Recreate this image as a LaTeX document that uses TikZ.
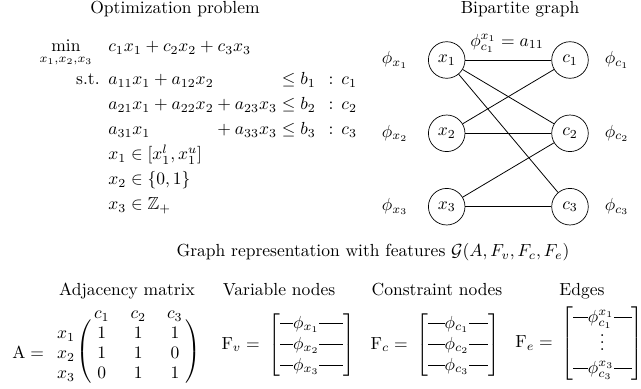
\documentclass[tikz,border=0pt]{standalone}
\usepackage{amsmath,amssymb}
\usetikzlibrary{matrix}
\newcommand{\hrfill}{\leaders\hrule height 2.9pt depth -2.5pt\hfill}
\newcommand{\frow}[3]{\makebox[#1][l]{\rule[2.5pt]{#2}{0.4pt}$#3$\hrfill}}
\newcommand{\shortvdots}{\lower1.5pt\vbox{\baselineskip4pt\lineskiplimit0pt\hbox{.}\hbox{.}\hbox{.}}}
\begin{document}
\begin{tikzpicture}[x=0.5714pt,y=-0.5714pt,
  lbl/.style={inner sep=0pt},
  vnode/.style={draw,circle,minimum size=20.9pt,inner sep=0pt},
  edgeline/.style={line width=0.45pt}]
\useasboundingbox (0,0) rectangle (641,389);

% ---------- Optimization problem ----------
\node[lbl,anchor=base] (opttitle) at (175,14) {Optimization problem};
\node[lbl,anchor=base] (min) at (66,52) {$\displaystyle\min_{x_1,x_2,x_3}$};
\node[lbl,anchor=base west] (obj) at (108,52) {$c_1x_1 + c_2x_2 + c_3x_3$};
\node[lbl,anchor=base east] (st) at (100,85) {s.t.};
\node[lbl,anchor=base west] (r1) at (108,85)
  {$a_{11}x_1 + a_{12}x_2 \phantom{{}+a_{23}x_3} \le b_1\hspace{7.5pt}{:}\hspace{4.5pt}c_1$};
\node[lbl,anchor=base west] (r2) at (108,110)
  {$a_{21}x_1 + a_{22}x_2 + a_{23}x_3 \le b_2\hspace{7.5pt}{:}\hspace{4.5pt}c_2$};
\node[lbl,anchor=base west] (r3) at (108,135)
  {$a_{31}x_1 \phantom{{}+a_{22}x_2} + a_{33}x_3 \le b_3\hspace{7.5pt}{:}\hspace{4.5pt}c_3$};
\node[lbl,anchor=base west] (r4) at (108,160) {$x_1 \in [x_1^l, x_1^u]$};
\node[lbl,anchor=base west] (r5) at (108,185) {$x_2 \in \{0,1\}$};
\node[lbl,anchor=base west] (r6) at (108,210) {$x_3 \in \mathbb{Z}_+$};

% ---------- Bipartite graph ----------
\node[lbl,anchor=base] (bptitle) at (520,14) {Bipartite graph};
\node[vnode] (x1) at (446.7,60) {$x_1$};
\node[vnode] (x2) at (446.7,133.3) {$x_2$};
\node[vnode] (x3) at (446.7,206.7) {$x_3$};
\node[vnode] (c1) at (570,60) {$c_1$};
\node[vnode] (c2) at (570,133.3) {$c_2$};
\node[vnode] (c3) at (570,206.7) {$c_3$};
\node[lbl] (px1) at (395,60) {$\phi_{x_1}$};
\node[lbl] (px2) at (395,133.3) {$\phi_{x_2}$};
\node[lbl] (px3) at (395,206.7) {$\phi_{x_3}$};
\node[lbl] (pc1) at (617,60) {$\phi_{c_1}$};
\node[lbl] (pc2) at (617,133.3) {$\phi_{c_2}$};
\node[lbl] (pc3) at (617,206.7) {$\phi_{c_3}$};
\draw[edgeline] (x1) -- (c1);
\draw[edgeline] (x1) -- (c2);
\draw[edgeline] (x1) -- (c3);
\draw[edgeline] (x2) -- (c1);
\draw[edgeline] (x2) -- (c2);
\draw[edgeline] (x3) -- (c2);
\draw[edgeline] (x3) -- (c3);
\node[lbl] (elab) at (507,43) {$\phi^{x_1}_{c_1} = a_{11}$};

% ---------- Graph representation ----------
\node[lbl,anchor=base] (grtitle) at (373,257) {Graph representation with features $\mathcal{G}(A,F_v,F_c,F_e)$};
\node[lbl,anchor=base] (adjtitle) at (127,296) {Adjacency matrix};
\node[lbl,anchor=base] (vartitle) at (279,296) {Variable nodes};
\node[lbl,anchor=base] (contitle) at (437,296) {Constraint nodes};
\node[lbl,anchor=base] (edgtitle) at (582,296) {Edges};

\matrix (A) [matrix of math nodes, inner sep=0pt,
  left delimiter=(, right delimiter=),
  every left delimiter/.style={xshift=7pt},
  every right delimiter/.style={xshift=-6pt},
  nodes={inner xsep=2pt, inner ysep=2.3pt, text height=6.5pt, text depth=0pt},
  column sep=11.9pt, row sep=0.4pt] at (138.3,353)
  {1 & 1 & 1\\ 1 & 1 & 0\\ 0 & 1 & 1\\};
\coordinate (clrow) at (0,319);
\coordinate (rlcol) at (66,0);
\coordinate (aeqcol) at (12,0);
\node[lbl,anchor=base] (ac1) at (A-1-1 |- clrow) {$c_1$};
\node[lbl,anchor=base] (ac2) at (A-1-2 |- clrow) {$c_2$};
\node[lbl,anchor=base] (ac3) at (A-1-3 |- clrow) {$c_3$};
\node[lbl,anchor=base] (ax1) at (A-1-1.base -| rlcol) {$x_1$};
\node[lbl,anchor=base] (ax2) at (A-2-1.base -| rlcol) {$x_2$};
\node[lbl,anchor=base] (ax3) at (A-3-1.base -| rlcol) {$x_3$};
\node[lbl,anchor=base west] (Aeq) at (A-2-1.base -| aeqcol) {$\mathrm{A} =$};

% feature matrices
\node[lbl,anchor=west] (Fvm) at (268,345)
  {$\begin{bmatrix} \frow{36pt}{7.5pt}{\phi_{x_1}} \\ \frow{36pt}{7.5pt}{\phi_{x_2}} \\ \frow{36pt}{7.5pt}{\phi_{x_3}} \end{bmatrix}$};
\node[lbl,anchor=base east] (Fvl) at ([xshift=-4.5pt]Fvm.base west) {$\mathrm{F}_v =$};
\node[lbl,anchor=west] (Fcm) at (416,345)
  {$\begin{bmatrix} \frow{34.5pt}{9.5pt}{\phi_{c_1}} \\ \frow{34.5pt}{9.5pt}{\phi_{c_2}} \\ \frow{34.5pt}{9.5pt}{\phi_{c_3}} \end{bmatrix}$};
\node[lbl,anchor=base east] (Fcl) at ([xshift=-4.5pt]Fcm.base west) {$\mathrm{F}_c =$};
\node[lbl,anchor=west] (Fem) at (561,343.5)
  {$\begin{bmatrix} \smash{\frow{33.5pt}{8.5pt}{\phi^{x_1}_{c_1}}} \\[2.5pt] \smash{\shortvdots} \\[2.5pt] \smash{\frow{33.5pt}{8.5pt}{\phi^{x_3}_{c_3}}} \end{bmatrix}$};
\node[lbl,anchor=base east] (Fel) at ([xshift=-4.5pt]Fem.base west) {$\mathrm{F}_e =$};
\end{tikzpicture}
\end{document}
